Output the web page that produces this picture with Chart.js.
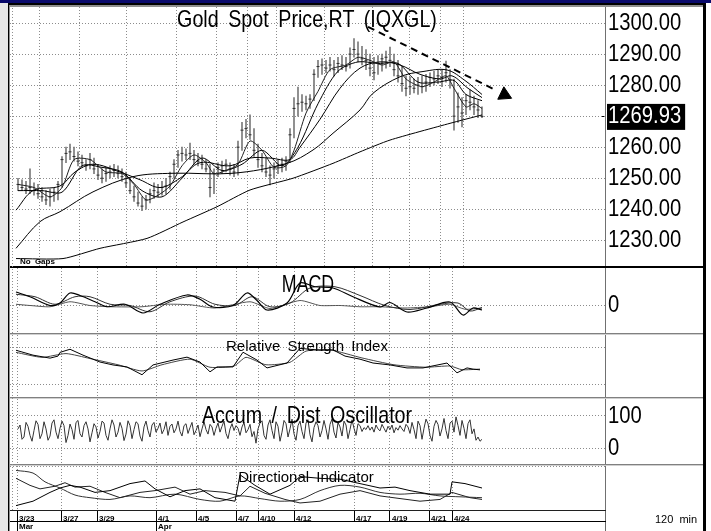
<!DOCTYPE html>
<html><head><meta charset="utf-8">
<script src="https://cdn.jsdelivr.net/npm/chart.js@4.4.0/dist/chart.umd.min.js"></script>
<style>
html,body{margin:0;padding:0;background:#fff;width:711px;height:531px;overflow:hidden;position:relative}
.b{position:absolute}
canvas{position:absolute;left:10px}
.t{position:absolute;white-space:pre;color:#000;line-height:1;pointer-events:none;font-family:'Liberation Sans',Arial,sans-serif}
.c{transform:translateX(-50%)}
.n{transform:translateX(-50%) scaleX(0.82)}
</style></head><body>
<div class="b" style="left:0;top:0;width:8px;height:531px;background:#e8e8e8"></div>
<div class="b" style="left:0;top:0;width:711px;height:3px;background:#0a0a6c"></div>
<div class="b" style="left:8px;top:3px;width:698px;height:2px;background:#000"></div>
<div class="b" style="left:10px;top:5px;width:693px;height:2px;background:#909090"></div>
<div class="b" style="left:8px;top:3px;width:1px;height:528px;background:#000"></div>
<div class="b" style="left:9px;top:5px;width:1px;height:526px;background:#909090"></div>
<div class="b" style="left:703px;top:3px;width:3px;height:528px;background:#000"></div>
<div class="b" style="left:10px;top:266px;width:693px;height:2px;background:#000"></div>
<div class="b" style="left:10px;top:333px;width:693px;height:1px;background:#808080"></div>
<div class="b" style="left:10px;top:334px;width:693px;height:1px;background:#d0d0d0"></div>
<div class="b" style="left:10px;top:397px;width:693px;height:1px;background:#808080"></div>
<div class="b" style="left:10px;top:398px;width:693px;height:1px;background:#d0d0d0"></div>
<div class="b" style="left:10px;top:464px;width:693px;height:1px;background:#808080"></div>
<div class="b" style="left:10px;top:465px;width:693px;height:1px;background:#d0d0d0"></div>
<div class="b" style="left:605px;top:510px;width:1px;height:21px;background:#666"></div>
<div class="b" style="left:12px;top:8px;width:1px;height:502px;background:repeating-linear-gradient(#909090 0 1px,transparent 1px 3px)"></div>
<div class="b" style="left:601px;top:116px;width:3px;height:1px;background:#000"></div>

<canvas id="cMain" width="693" height="259" style="top:7px"></canvas>
<canvas id="cMacd" width="693" height="65" style="top:268px"></canvas>
<canvas id="cRsi" width="693" height="62" style="top:335px"></canvas>
<canvas id="cAd" width="693" height="65" style="top:399px"></canvas>
<canvas id="cDi" width="693" height="65" style="top:466px"></canvas>

<div class="t n" style="left:307px;top:7px;font-size:24px;word-spacing:5px">Gold Spot Price,RT (IQXGL)</div>
<div class="t c" style="left:308px;top:272px;font-size:24px;transform:translateX(-50%) scaleX(0.74)">MACD</div>
<div class="t c" style="left:307px;top:338px;font-size:15px;word-spacing:3px">Relative Strength Index</div>
<div class="t n" style="left:307px;top:403px;font-size:24px;word-spacing:5px">Accum / Dist Oscillator</div>
<div class="t c" style="left:306px;top:469px;font-size:15px;word-spacing:3px">Directional Indicator</div>
<div class="t" style="left:20px;top:258px;font-size:8px;font-weight:bold;word-spacing:2px">No Gaps</div>
<div class="t" style="left:655px;top:514px;font-size:11px;word-spacing:3px">120 min</div>

<script>
// ---------- DATA ----------
const barStart = 2; // first bar index
const high = [
1250,1249.5,1249,1253,1248.5,1248,1247,1246,1246.5,1247,1249,
1257,1260,1261,1260,1258.5,1257.5,1256,1258,1256.5,1254.5,1253,
1253.5,1254,1254.5,1254,1253,1252,1250,1247.5,1245.5,1244,1244.5,
1246.5,1248.5,1248,1249,1250,1252,1256,1259,1260,1259.5,1261.3,
1259,1258,1257.5,1256,1254.5,1253,1255,1255.5,1256,1255,1254.5,
1262,1268,1269,1270.4,1266,1261,1258,1256.5,1254,1255,1256,
1256.5,1257,1266,1276,1279.4,1277,1276.5,1277,1285,1288,1288.5,
1288,1289,1288,1289,1289.5,1289,1292,1295,1294,1292.5,1291.5,
1290,1289,1289.5,1290,1291,1292.3,1290,1288,1286,1283,1282.5,
1282,1282.5,1283,1283.5,1284,1284.5,1285,1285,1287.8,1285,1282,
1277.5,1276,1277,1278.5,1276.5,1275,1273];
const low = [
1246,1246,1245,1245,1244.5,1243.5,1242.5,1241.5,1241,1242.5,1243,
1247,1255,1256,1255.5,1254,1253.5,1252.5,1253,1251.5,1249.5,1248.5,
1249,1250,1250.5,1250,1249,1247,1245,1242.5,1241,1239.5,1240,
1242,1243.5,1244,1244.5,1245,1246.5,1250,1253.5,1255.5,1256,1256,
1254.5,1254,1253,1252,1244,1245,1250.5,1251.5,1252,1251,1250.5,
1251,1259,1263,1262.5,1257,1253.5,1252,1250.5,1247.8,1250,1251.5,
1252,1252.5,1255,1263,1270,1271.5,1272,1272.5,1275,1282.5,1283.5,
1284,1284.5,1283,1284,1285,1284.5,1285.5,1289,1287.5,1286.5,1285,
1283,1281.7,1283.5,1284.5,1285.5,1286,1283,1281,1278,1276.5,1277,
1277.5,1277,1277.5,1278,1279.5,1280,1280.5,1279.5,1281,1279,1265.5,
1268,1266.5,1270.5,1272,1270.5,1269.5,1269.5];
const close = [
1248,1247,1246.5,1247,1246,1245,1244,1243,1244,1245.5,1248,
1256,1258,1258.5,1257,1255.5,1255,1254,1256,1253,1251,1250,
1251.5,1252,1252.5,1251.5,1250.5,1248.5,1246,1244,1242,1241,1243,
1245,1246,1245.5,1247,1247.5,1250.5,1254.5,1257.5,1258,1257.5,1258,
1256,1255.5,1254.5,1253,1247,1251.5,1253.5,1254,1254.5,1253,1252,
1260,1265.5,1266,1264,1259,1256,1254,1252,1251,1253,1254,
1254.5,1255.5,1264,1272.5,1274,1274.5,1274,1275.5,1283.5,1286,1286.5,
1285.5,1286.5,1285,1287,1286.5,1286,1290,1291.5,1290,1288.5,1288,
1285.5,1284,1287,1288.5,1289,1288,1285,1283,1280.5,1279,1279.5,
1279,1280,1279.5,1281,1282.5,1282,1283,1282.5,1284,1281.7,1270,
1273,1271,1275,1274.5,1273,1272,1269.93];
const lastPrice = 1269.93;

const shortX = [2,6,10,13,16,20,24,28,31,34,37,40,43,46,49,51,54,57,60,63,66,69,71,74,77,80,84,87,90,93,96,99,103,106,109,111,114,116,118];
const shortY = [1248,1247,1244,1247,1256,1256,1252,1251.5,1248,1243,1244.5,1247.5,1254,1257.5,1255,1251.5,1252.5,1254.5,1262,1259,1253.5,1254,1259,1271,1278,1285,1286.5,1289,1288,1286.5,1287.5,1282,1279.5,1281,1283,1279,1273,1274,1272.5];
const ma10X = [2,8,13,18,23,28,33,38,43,48,53,58,63,68,72,77,82,87,92,97,102,107,111,114,118];
const ma10Y = [1246,1246,1245.5,1254,1253.5,1252,1246,1244,1250,1256.5,1252.5,1254.5,1259,1254,1260,1274,1284.5,1287.5,1287,1287,1281,1281,1281.5,1277,1275];
const ma20X = [1.5,5.75,12.5,16.25,20.75,27.5,32.5,37.5,42.5,47.5,55,60,65,70,72.5,77.5,82.5,87.5,92.5,97.5,102.5,107.5,110.5,114.5,118];
const ma20Y = [1239.7,1246,1247.5,1252,1254.5,1252,1249.5,1247,1250,1255,1254,1256.5,1256.5,1256,1260,1269,1279,1285.5,1287.5,1286.5,1283.5,1282,1283,1279,1276];
const midX = [1.5,7.5,12.5,20.75,30.75,40.75,55.75,69.25,75.75,80.75,87.5,90.75,97.5,103.25,109.25,113.75,118];
const midY = [1227.4,1236,1239.2,1245.6,1250.5,1251.6,1251.6,1254.8,1259.1,1264.5,1272,1277.4,1282.7,1284.4,1284.9,1281.5,1277];
const longX = [1.5,13.25,22.5,34.25,43.25,51.75,60,70.75,80.75,87.5,95,110,118];
const longY = [1224.1,1224.1,1227.4,1230.6,1235.9,1240.8,1246.2,1250.0,1254.8,1258.5,1262.3,1267.7,1270.4];
const arrowX = [89.5,121.75];
const arrowY = [1298.8,1278.2];
const arrowHeadX = [123.6];
const arrowHeadY = [1276.9];

const priceTicks = [1230,1240,1250,1260,1269.93,1280,1290,1300];

const macdX = [1.5,5,10,12.5,15,17.5,21.25,24.25,28.75,33.25,37.5,44.25,47.5,50.75,55.75,59.25,61.75,64.25,69.25,72.5,76.25,80.75,85.75,92.5,95,99.25,104.25,110,113.25,115.75,118];
const macdY = [5.4,3.5,0,1,5,4,1.5,-0.5,0.5,-3,0.5,4.2,2.5,-0.6,0,5,2,-1.8,1,9,7.5,7,3.5,-0.6,1.2,-2.6,-1,1.4,-3.8,-1,-1.8];
const sigX = [1.5,6.25,11.25,16.25,20,25,30,35,40,46.25,51.25,56.25,60.5,65,70,75,81.25,87.5,93.75,100,107.5,112,115,118];
const sigY = [4.5,3.5,0.5,3.5,3.5,0.5,0,-2.5,1.5,3.8,0.5,0,3.5,-0.5,1,7,7.5,4,0,-1.6,0.5,1,-2.2,-0.8];
const histX = [1.5,5,10,15,20,25,33,38.75,45,51.25,60,65,72.5,77.5,82.5,87.5,92.5,98.75,105,110,113.75,118];
const histY = [0.5,0,-0.5,1.5,0,-0.5,-0.5,0.5,0.3,-1,1.5,-1.2,2,0,0,-0.5,-0.5,-1,-0.5,0.5,-1.5,-1];

const rsiX = [1.5,5.75,10,12,12.5,15,18.25,22.5,25.75,29.25,33,35.75,40.75,44.25,47.5,50,51.75,55.75,58.25,61.75,64.25,69.25,72.5,77.5,80.75,83.75,87.5,90.75,95,99.25,103.25,109.25,111.75,114.25,115.75,117.5];
const rsiY = [75.4,67.5,62.7,66,72,77,67.5,56.4,51.7,48.5,35.9,51.7,59.6,64.3,56.4,40.6,48.5,48.5,72.2,59.6,46.9,54.8,78.5,75.4,76,66,61,54.8,51.7,46.9,46.9,54.8,39,46.9,45,43.8];
const rsi2X = [1.5,8,14,20,27,33,38,45,50,56,59,64,70,74,80,88,96,104,110,113,117.5];
const rsi2Y = [72,64,70,62,52,42,52,61,48,50,64,52,56,74,76,63,52,48,50,44,45];

const adStep = 0.5; // oscillator sampled every half bar
const adOsc = [
60,72,28,35,80,68,40,22,55,85,74,30,45,82,60,25,38,78,88,50,
30,62,84,70,18,40,75,58,28,80,86,45,35,70,82,60,20,48,76,66,
32,52,84,78,40,25,60,88,72,35,50,80,62,24,44,85,70,30,58,82,
76,38,22,66,84,55,35,72,80,50,62,78,45,58,82,40,68,75,48,60,
84,52,38,70,76,46,64,80,42,55,72,36,60,82,58,44,74,66,40,62,
78,50,68,84,46,30,60,76,55,70,62,40,66,80,48,58,74,36,52,16,
60,78,85,40,28,72,88,55,30,82,68,22,50,86,76,35,60,90,45,25,
70,84,52,30,78,88,42,20,64,82,70,35,55,86,60,28,74,90,50,32,
80,66,38,84,72,30,58,88,62,40,76,70,52,64,58,70,56,66,50,72,
60,54,74,62,50,68,58,72,48,64,56,70,60,52,74,66,46,80,58,30,
84,70,28,62,90,76,40,22,68,86,74,38,60,92,55,30,78,84,50,97,
70,40,86,62,30,76,88,45,60,25,35,22,28];

const pdiX = [1.5,5.75,10,12.5,15,17.5,21.25,25,30,33.75,36.25,40,43.75,47.5,51.25,56.25,57.5,61.25,65,70,72.5,77.5,82.5,87.5,92.5,96.25,100,105,110,110.5,113.75,118];
const pdiY = [5,10,20,25,28,26,20,22,30,33,24,15,22,24,14,10,40,28,18,28,38,36,35,30,25,26,22,18,18,32,30,25];
const mdiX = [1.5,5,7.5,11.25,13.75,16.25,20,23.75,27.5,32.5,36.25,41.25,45,48.75,53.75,57.5,60,63.75,68.75,72.5,77.5,82.5,87.5,92.5,97.5,102.5,107.5,110.5,115,118];
const mdiY = [36,28,24,27,31,26,27,20,14,20,22,26,18,22,20,16,27,19,12,8,10,18,22,16,13,10,12,20,14,12];
const adxX = [1.5,5.75,8.75,12.5,16.25,20,25,30,35,41.25,47.5,52.5,57.5,62.5,67.5,72.5,77.5,82.5,87.5,92.5,97.5,102.5,107.5,112.5,118];
const adxY = [45,42,32,25,17,14,12,16,14,18,12,10,16,13,10,12,22,28,26,20,18,19,16,15,14];

const dateLabels = ['3/23','3/27','3/29','4/1','4/5','4/7','4/10','4/12','4/17','4/19','4/21','4/24'];
const dateBars = [1.75,12.75,21.75,36.5,46.5,56.5,62,71,86,95,104.75,110.5];
const monthLabels = ['Mar','Apr'];
const monthBars = [1.75,36.5];

// ---------- HELPERS ----------
const X_MIN = 0, X_MAX = 148.75;
const GRID = '#8c8c8c';
const SANS = "'Liberation Sans',Arial,sans-serif";
const NARROW_SCALE = 0.88;
const pts = (xs, ys) => xs.map((x, k) => ({x: x, y: ys[k]}));
const seq = (ys, step) => ys.map((y, k) => ({x: barStart + k * (step || 1), y: y}));
const line = (data, color, width, tension) => ({type: 'line', data: data, borderColor: color, borderWidth: width || 1, pointRadius: 0, tension: tension || 0, fill: false});

// condensed look for the big right-hand labels
function narrowText(canvas) {
  const ctx = canvas.getContext('2d');
  const orig = ctx.fillText.bind(ctx);
  ctx.fillText = function (t, x, y, mw) {
    ctx.save(); ctx.translate(x, y); ctx.scale(NARROW_SCALE, 1); orig(t, 0, 0); ctx.restore();
  };
  return canvas;
}

function gridX() {
  return {type: 'linear', min: X_MIN, max: X_MAX, offset: false,
    afterBuildTicks: s => { s.ticks = dateBars.map(v => ({value: v})); },
    grid: {color: GRID, lineWidth: 1, drawTicks: false},
    border: {display: false, dash: [1, 2]},
    ticks: {display: false},
    afterFit: s => { s.height = 0; s.paddingLeft = 0; s.paddingRight = 0; }};
}
function yAxis(min, max, ticks, labels, fmt) {
  return {type: 'linear', position: 'right', min: min, max: max,
    afterBuildTicks: s => { s.ticks = ticks.map(v => ({value: v})); },
    ticks: {display: labels, padding: 3, labelOffset: 0.5, callback: fmt || (v => String(v)),
      font: {family: SANS, size: 23, lineHeight: 1}, color: '#000'},
    grid: {color: GRID, drawTicks: false},
    border: {display: true, color: '#707070', dash: [1, 2]},
    afterFit: s => { s.width = 98; s.paddingTop = 0; s.paddingBottom = 0; }};
}
function opts(y, x) {
  return {responsive: false, animation: false, events: [], layout: {padding: 0, autoPadding: false},
    plugins: {legend: {display: false}, tooltip: {enabled: false}, title: {display: false}},
    scales: x ? Object.assign({y: y}, x) : {x: gridX(), y: y}};
}

// ---------- MAIN PRICE ----------
const yMain = yAxis(1221.7, 1305.2, priceTicks, true, v => v.toFixed(2));
yMain.ticks.color = c => (c.tick && c.tick.value === lastPrice) ? '#fff' : '#000';
yMain.ticks.showLabelBackdrop = c => !!(c.tick && c.tick.value === lastPrice);
yMain.ticks.backdropColor = '#000';
yMain.ticks.backdropPadding = {top: 1.5, bottom: 1.5, left: 1, right: -6};

new Chart(narrowText(document.getElementById('cMain')), {
  type: 'bar',
  data: {datasets: [
    {type: 'line', data: pts(arrowHeadX, arrowHeadY), showLine: false, pointStyle: 'triangle', pointRadius: 8, pointRotation: 116, pointBackgroundColor: '#000', pointBorderColor: '#000', pointBorderWidth: 1},
    Object.assign(line(pts(arrowX, arrowY), '#000', 2), {borderDash: [7, 5]}),
    line(pts(shortX, shortY), '#202020', 1, 0.25),
    line(pts(ma10X, ma10Y), '#000', 1, 0.3),
    line(pts(ma20X, ma20Y), '#000', 1, 0.35),
    line(pts(midX, midY), '#000', 1, 0.35),
    line(pts(longX, longY), '#000', 1, 0.2),
    {type: 'line', data: seq(close), showLine: false, pointStyle: 'line', pointRadius: 1.5, pointBorderColor: '#303030', pointBorderWidth: 1},
    {type: 'bar', data: low.map((l, k) => ({x: barStart + k, y: [l, high[k]]})), backgroundColor: '#7a7a7a', borderWidth: 0, barThickness: 1}
  ]},
  options: opts(yMain)
});

// ---------- MACD ----------
new Chart(narrowText(document.getElementById('cMacd')), {
  type: 'line',
  data: {datasets: [
    line(pts(macdX, macdY), '#000', 1.2, 0.3),
    line(pts(sigX, sigY), '#303030', 1, 0.3),
    line(pts(histX, histY), '#555', 1, 0.2)
  ]},
  options: opts(yAxis(-11, 15, [0], true))
});

// ---------- RSI ----------
new Chart(document.getElementById('cRsi'), {
  type: 'line',
  data: {datasets: [
    line(pts(rsiX, rsiY), '#000', 1, 0),
    line(pts(rsi2X, rsi2Y), '#444', 1, 0.2)
  ]},
  options: opts(yAxis(0, 100, [20, 80], false))
});

// ---------- ACCUM / DIST ----------
new Chart(narrowText(document.getElementById('cAd')), {
  type: 'line',
  data: {datasets: [line(seq(adOsc, adStep), '#333', 1, 0)]},
  options: opts(yAxis(-48, 152, [0, 100], true))
});

// ---------- DIRECTIONAL ----------
const xDates = {type: 'linear', position: 'bottom', weight: 0, min: X_MIN, max: X_MAX, offset: false,
  afterBuildTicks: s => { s.ticks = dateBars.map(v => ({value: v})); },
  ticks: {autoSkip: false, maxRotation: 0, minRotation: 0, align: 'start', labelOffset: 2, padding: -7.5,
    color: '#000', font: {family: SANS, size: 8, weight: 'bold'}, callback: (v, i) => dateLabels[i]},
  grid: {color: GRID, drawTicks: true, tickLength: 11, tickColor: '#000', tickBorderDash: [], tickWidth: 1},
  border: {display: true, color: '#202020', dash: [1, 2], width: 1},
  afterFit: s => { s.height = 11; s.paddingLeft = 0; s.paddingRight = 0; }};
const xMonths = {type: 'linear', position: 'bottom', weight: 1, min: X_MIN, max: X_MAX, offset: false,
  afterBuildTicks: s => { s.ticks = monthBars.map(v => ({value: v})); },
  ticks: {autoSkip: false, maxRotation: 0, minRotation: 0, align: 'start', labelOffset: 2, padding: -9.5,
    color: '#000', font: {family: SANS, size: 8, weight: 'bold'}, callback: (v, i) => monthLabels[i]},
  grid: {drawOnChartArea: false, drawTicks: true, tickLength: 10, tickColor: '#000', tickBorderDash: [], tickWidth: 1},
  border: {display: true, color: '#000', width: 1},
  afterFit: s => { s.height = 10; s.paddingLeft = 0; s.paddingRight = 0; }};

new Chart(document.getElementById('cDi'), {
  type: 'line',
  data: {datasets: [
    line(pts(pdiX, pdiY), '#000', 1, 0),
    line(pts(mdiX, mdiY), '#222', 1, 0),
    line(pts(adxX, adxY), '#333', 1, 0.3)
  ]},
  options: opts(yAxis(0, 50, [0, 50], false), {x: xDates, x2: xMonths})
});
</script>
</body></html>
